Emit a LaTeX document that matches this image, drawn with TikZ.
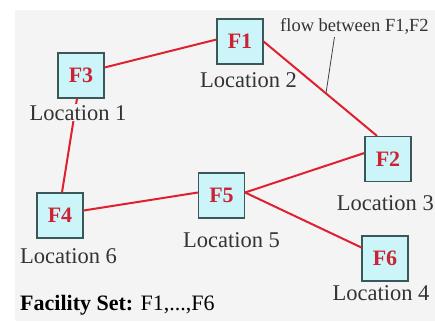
\documentclass[tikz,border=0pt]{standalone}
\usepackage{fontspec}
\setmainfont{Liberation Serif}
\definecolor{bgc}{HTML}{F4F4F4}
\definecolor{boxf}{HTML}{CCF5FA}
\definecolor{boxd}{HTML}{3A5858}
\definecolor{edgec}{HTML}{E0202E}
\definecolor{redt}{HTML}{CC2233}
\definecolor{textc}{HTML}{333333}
\definecolor{leadc}{HTML}{404040}
\begin{document}
\begin{tikzpicture}[x=1pt,y=-1pt,
  fac/.style={draw=boxd, fill=boxf, line width=1.2pt, minimum width=46pt, minimum height=45pt, inner sep=0pt, text=redt, font=\fontsize{22}{22}\selectfont\bfseries},
  loc/.style={font=\fontsize{22.5}{22.5}\selectfont, text=textc, inner sep=0pt, anchor=base},
  edge/.style={draw=edgec, line width=2pt},
  leader/.style={draw=leadc, line width=0.8pt}]
\useasboundingbox (0,0) rectangle (435,321);
\fill[white] (0,0) rectangle (435,321);
\fill[bgc] (15,10) rectangle (435,321);
% facilities
\node[fac] (F1) at (240,41.5) {F1};
\node[fac] (F2) at (388,159) {F2};
\node[fac] (F3) at (81,75.5) {F3};
\node[fac] (F4) at (60,215.5) {F4};
\node[fac] (F5) at (221.5,195.5) {F5};
\node[fac] (F6) at (385,258.5) {F6};
% flow label
\node[font=\fontsize{18.5}{18.5}\selectfont, text=textc, inner sep=0pt, anchor=base west] (flow) at (280,32) {flow between F1,F2};
% connectors
\draw[edge] ([yshift=8pt]F3.east) -- ([yshift=2pt]F1.west);
\draw[edge] (F1.east) -- coordinate[pos=0.55] (lp) ([xshift=-11pt]F2.north);
\draw[edge] ([xshift=-4pt]F3.south) -- ([xshift=2pt]F4.north);
\draw[edge] ([yshift=5pt]F4.east) -- ([yshift=3pt]F5.west);
\coordinate (f5e) at ([yshift=3pt]F5.east);
\draw[edge] (f5e) -- ([yshift=6pt]F2.west);
\draw[edge] (f5e) -- ([yshift=11pt]F6.west);
\draw[leader] ([xshift=-20pt,yshift=-2pt]flow.south) -- (lp);
% location labels
\node[loc, fill=bgc, inner sep=1pt] (L1) at (78,120) {Location 1};
\node[loc] (L2) at (248.5,87) {Location 2};
\node[loc, anchor=base east] (L3) at (434,210) {Location 3};
\node[loc] (L4) at (381,300) {Location 4};
\node[loc] (L5) at (231.5,247) {Location 5};
\node[loc] (L6) at (68.5,263) {Location 6};
% facility set
\node[font=\fontsize{22}{22}\selectfont, text=black, inner sep=0pt, anchor=base west] (fs) at (20,310) {\textbf{Facility Set:} F1,...,F6};
\end{tikzpicture}
\end{document}
